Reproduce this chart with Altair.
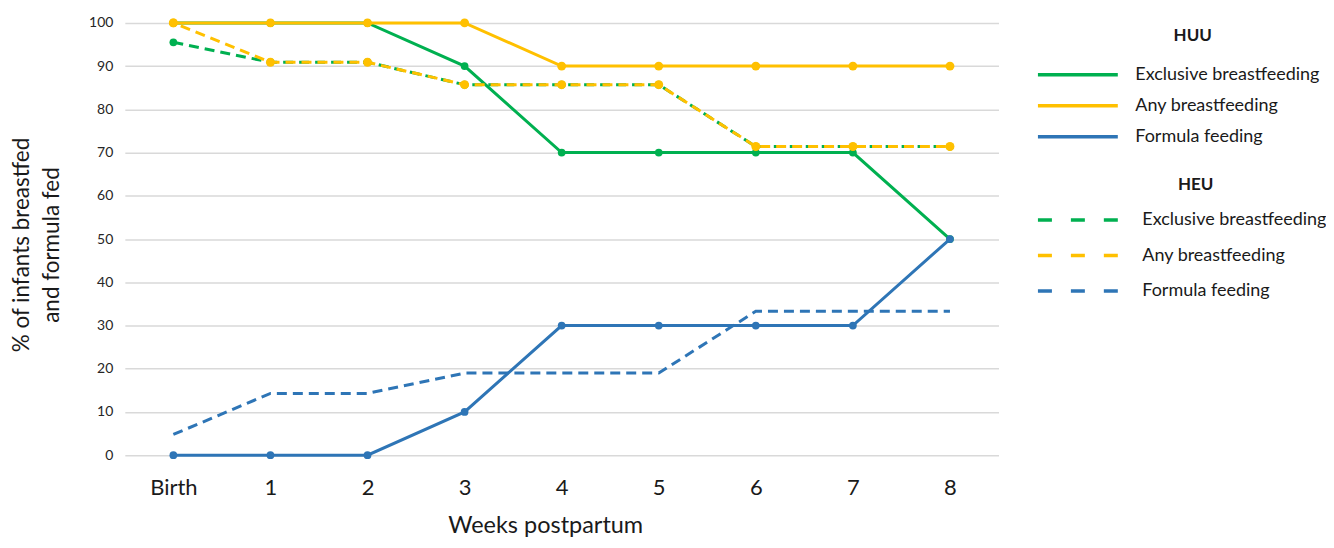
import altair as alt
import pandas as pd

weeks = ["Birth", "1", "2", "3", "4", "5", "6", "7", "8"]
series_names = ["Exclusive breastfeeding", "Any breastfeeding", "Formula feeding"]
series_colors = ["#00B050", "#FFC000", "#2E75B6"]

huu_exclusive = [100, 100, 100, 90, 70, 70, 70, 70, 50]
huu_any = [100, 100, 100, 100, 90, 90, 90, 90, 90]
huu_formula = [0, 0, 0, 10, 30, 30, 30, 30, 50]

heu_exclusive = [95.5, 90.9, 90.9, 85.7, 85.7, 85.7, 71.4, 71.4, 71.4]
heu_any = [100, 90.9, 90.9, 85.7, 85.7, 85.7, 71.4, 71.4, 71.4]
heu_formula = [4.8, 14.3, 14.3, 19.0, 19.0, 19.0, 33.3, 33.3, 33.3]

rows = []
for grp, vals in [("HUU", [huu_exclusive, huu_any, huu_formula]),
                  ("HEU", [heu_exclusive, heu_any, heu_formula])]:
    for name, series in zip(series_names, vals):
        for w, v in zip(weeks, series):
            rows.append({"group": grp, "series": name, "week": w, "value": v})
df = pd.DataFrame(rows)

FONT = "Lato"

x_enc = alt.X("week:N", sort=weeks, title="Weeks postpartum",
              axis=alt.Axis(labelAngle=0, labelFontSize=22, labelColor="#1a1a1a",
                            labelFont=FONT, labelPadding=22, ticks=False, domain=False,
                            grid=False, titleFont=FONT, titleFontSize=23.5,
                            titleFontWeight="normal", titleColor="#1a1a1a",
                            titleX=421, titleY=70, titleBaseline="middle",
                            titleAlign="center", titleAnchor="start"))
y_enc = alt.Y("value:Q", scale=alt.Scale(domain=[0, 100], nice=False),
              title=["% of infants breastfed", "and formula fed"],
              axis=alt.Axis(values=list(range(0, 101, 10)), labelFontSize=14,
                            labelFont=FONT, labelColor="#262626", labelPadding=12,
                            ticks=False, domain=False, gridColor="#D9D9D9",
                            gridWidth=1.5, titleFont=FONT, titleFontSize=22.5,
                            titleFontWeight="normal", titleColor="#1a1a1a",
                            titleX=-103, titleY=222, titleAlign="center",
                            titleBaseline="middle", titleAngle=270,
                            titleLineHeight=30))

common_legend = dict(orient="none", symbolType="M-4,0H4", symbolSize=400,
                     symbolStrokeWidth=3.5, labelFont=FONT, labelFontSize=18,
                     labelColor="#1a1a1a", labelLimit=320, titleFont=FONT,
                     titleFontSize=17, titleFontWeight="bold", titleColor="#1a1a1a",
                     titleAnchor="middle", legendX=942.5)

huu_legend = alt.Legend(title="HUU", legendY=5, labelOffset=45.5, titlePadding=18,
                        rowPadding=10, **common_legend)
heu_legend = alt.Legend(title="HEU", legendY=154.5, labelOffset=52.5, titlePadding=14,
                        rowPadding=14.5, symbolDash=[14, 19], **common_legend)

color_scale = alt.Scale(domain=series_names, range=series_colors)


def line_layer(grp, name, legend, **mark_kw):
    return alt.Chart(df).transform_filter(
        (alt.datum.group == grp) & (alt.datum.series == name)
    ).mark_line(strokeWidth=3, **mark_kw).encode(
        x=x_enc, y=y_enc,
        color=alt.Color("series:N", scale=color_scale, legend=legend),
    )


def point_layer(grp, name, color, size):
    return alt.Chart(df).transform_filter(
        (alt.datum.group == grp) & (alt.datum.series == name)
    ).mark_point(filled=True, size=size, opacity=1, color=color).encode(
        x=x_enc, y=y_enc,
    )


huu = alt.layer(
    line_layer("HUU", series_names[0], huu_legend),
    point_layer("HUU", series_names[0], series_colors[0], 60),
    line_layer("HUU", series_names[1], huu_legend),
    point_layer("HUU", series_names[1], series_colors[1], 80),
    line_layer("HUU", series_names[2], huu_legend),
    point_layer("HUU", series_names[2], series_colors[2], 60),
)

heu = alt.layer(
    line_layer("HEU", series_names[0], heu_legend, strokeDash=[10, 6]),
    point_layer("HEU", series_names[0], series_colors[0], 60),
    line_layer("HEU", series_names[1], heu_legend, strokeDash=[10, 6], strokeDashOffset=8),
    point_layer("HEU", series_names[1], series_colors[1], 80),
    line_layer("HEU", series_names[2], heu_legend, strokeDash=[10, 6]),
)

chart = alt.layer(huu, heu).resolve_scale(color="independent").properties(
    width=875, height=433,
    autosize=alt.AutoSizeParams(type="none"),
    padding={"left": 117, "top": 14.5, "right": 328, "bottom": 84},
).configure_view(stroke=None).configure_legend(padding=0)

chart.save("out.html", embed_options={"renderer": "svg", "actions": False})
